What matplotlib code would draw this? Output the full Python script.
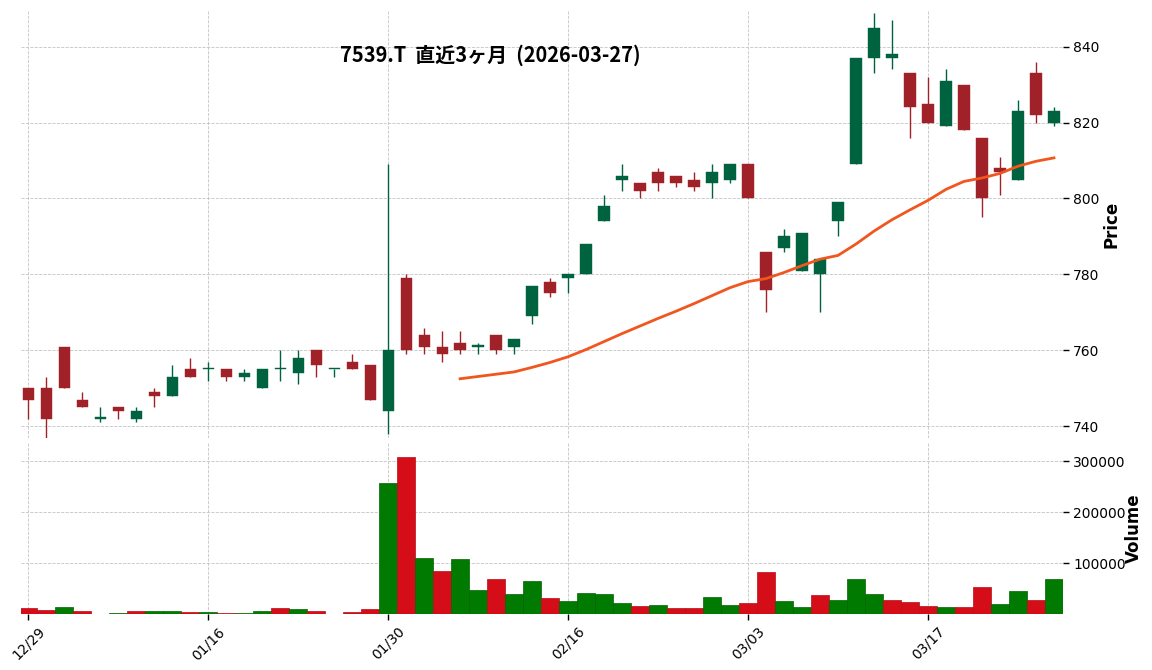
import numpy as np
import matplotlib
matplotlib.use("Agg")
import matplotlib.pyplot as plt
from matplotlib.ticker import MultipleLocator, FuncFormatter

plt.rcParams['font.family'] = ['DejaVu Sans', 'Noto Sans CJK JP']

title = "7539.T  直近3ヶ月  (2026-03-27)"

dates = ["12/29", "12/30", "01/05", "01/06", "01/07", "01/08", "01/09", "01/13", "01/14", "01/15",
         "01/16", "01/19", "01/20", "01/21", "01/22", "01/23", "01/26", "01/27", "01/28", "01/29",
         "01/30", "02/02", "02/03", "02/04", "02/05", "02/06", "02/09", "02/10", "02/12", "02/13",
         "02/16", "02/17", "02/18", "02/19", "02/20", "02/24", "02/25", "02/26", "02/27", "03/02",
         "03/03", "03/04", "03/05", "03/06", "03/09", "03/10", "03/11", "03/12", "03/13", "03/16",
         "03/17", "03/18", "03/19", "03/23", "03/24", "03/25", "03/26", "03/27"]

opens = [750, 750, 761, 747, 742, 745, 742, 749, 748, 755,
         755, 755, 753, 750, 755, 754, 760, 755, 757, 756,
         744, 779, 764, 761, 762, 761, 764, 761, 769, 778,
         779, 780, 794, 805, 804, 807, 806, 805, 804, 805,
         809, 786, 787, 781, 780, 794, 809, 837, 837, 833,
         825, 819, 830, 816, 808, 805, 833, 820]
highs = [750, 753, 761, 749, 745, 745, 745, 750, 756, 758,
         757, 755, 755, 755, 760, 760, 760, 755, 759, 756,
         809, 780, 766, 765, 765, 762, 764, 763, 777, 779,
         780, 788, 801, 809, 804, 808, 806, 807, 809, 809,
         809, 786, 792, 791, 784, 799, 837, 849, 847, 833,
         832, 834, 830, 816, 811, 826, 836, 824]
lows = [742, 737, 750, 745, 741, 742, 741, 745, 748, 753,
        752, 752, 752, 750, 752, 751, 753, 753, 755, 747,
        738, 759, 759, 757, 759, 759, 759, 759, 767, 774,
        775, 780, 794, 802, 800, 802, 803, 802, 800, 804,
        800, 770, 786, 781, 770, 790, 809, 833, 834, 816,
        820, 819, 818, 795, 801, 805, 820, 819]
closes = [747, 742, 750, 745, 742, 744, 744, 748, 753, 753,
          755, 753, 754, 755, 755, 758, 756, 755, 755, 747,
          760, 760, 761, 759, 760, 761, 760, 763, 777, 775,
          780, 788, 798, 806, 802, 804, 804, 803, 807, 809,
          800, 776, 790, 791, 784, 799, 837, 845, 838, 824,
          820, 831, 818, 800, 807, 823, 822, 823]

volumes = [13000, 9200, 15000, 7200, 0, 3300, 7200, 7200, 7200, 5200,
           5200, 3300, 3300, 7200, 13000, 11100, 7200, 0, 5200, 11100,
           256200, 307200, 111100, 85600, 109200, 48400, 69900, 40500, 66000, 32700,
           26800, 42500, 40500, 22900, 17000, 19000, 13100, 13100, 34600, 19000,
           22900, 83700, 26800, 15000, 38600, 28800, 69900, 40500, 28800, 24800,
           17000, 15000, 15000, 54200, 20900, 46400, 28800, 69900]
vol_up = [0, 0, 1, 0, 1, 1, 0, 1, 1, 0,
          1, 0, 1, 1, 0, 1, 0, 0, 0, 0,
          1, 0, 1, 0, 1, 1, 0, 1, 1, 0,
          1, 1, 1, 1, 0, 1, 0, 0, 1, 1,
          0, 0, 1, 1, 0, 1, 1, 1, 0, 0,
          0, 1, 0, 0, 1, 1, 0, 1]

nan = np.nan
ma25 = [nan] * 24 + [752.5, 753.1, 753.7, 754.3, 755.5, 756.8, 758.3, 760.2, 762.3, 764.4,
                     766.4, 768.4, 770.3, 772.3, 774.4, 776.5, 778.1, 778.9, 780.5, 782.3,
                     784.0, 785.0, 788.0, 791.4, 794.4, 797.0, 799.5, 802.4, 804.5, 805.4,
                     806.6, 808.5, 809.8, 810.7]

UP, DOWN = '#006340', '#a02128'
VUP, VDOWN = '#007a00', '#d50d18'
GRID = dict(color='#c4c4c4', linestyle='--', linewidth=0.6)

fig = plt.figure(figsize=(11.52, 6.70), dpi=100)
ax = fig.add_axes([0.0182, 0.3463, 0.9045, 0.6373])
axv = fig.add_axes([0.0182, 0.0836, 0.9045, 0.2573], sharex=ax)

x = np.arange(len(dates))
o = np.array(opens, float)
c = np.array(closes, float)
colors = [UP if cc >= oo else DOWN for oo, cc in zip(o, c)]

ax.vlines(x, lows, highs, colors=colors, linewidth=1.0, zorder=2)
body = np.maximum(np.abs(c - o), 0.3)
ax.bar(x, body, bottom=np.minimum(o, c), width=0.62, color=colors,
       edgecolor=colors, linewidth=0.3, zorder=3)
ax.plot(x, ma25, color='#f0561d', linewidth=2.0, zorder=4)

vcol = [VUP if u else VDOWN for u in vol_up]
vedge = ['#006400' if u else '#b80c14' for u in vol_up]
axv.bar(x, volumes, width=1.0, color=vcol, edgecolor=vedge, linewidth=0.5, zorder=3)

for a in (ax, axv):
    for s in a.spines.values():
        s.set_visible(False)
    a.yaxis.tick_right()
    a.yaxis.set_label_position('right')
    a.grid(True, **GRID)
    a.set_axisbelow(True)
    a.tick_params(axis='both', length=4, width=1, labelsize=10)

ax.set_xlim(-0.4, 57.5)
ax.set_ylim(736.9, 849.4)
ax.yaxis.set_major_locator(MultipleLocator(20))
ax.tick_params(axis='x', bottom=False, labelbottom=False)
ax.set_ylabel("Price", fontsize=12, fontweight='bold', labelpad=2)

axv.set_ylim(1200, 338000)
axv.set_yticks([100000, 200000, 300000])
axv.yaxis.set_major_formatter(FuncFormatter(lambda v, p: f"{int(v)}"))
axv.set_ylabel("Volume", fontsize=12, fontweight='bold', labelpad=-1)

ticks = x[::10]
axv.set_xticks(ticks)
axv.set_xticklabels([dates[i] for i in ticks], rotation=45, ha='center')

fig.text(490 / 1152, 1 - 55 / 670, title, ha='center', va='center',
         fontsize=14.4, fontweight='bold', family=['Noto Sans CJK JP', 'DejaVu Sans'])

fig.savefig("out.png", dpi=100)
